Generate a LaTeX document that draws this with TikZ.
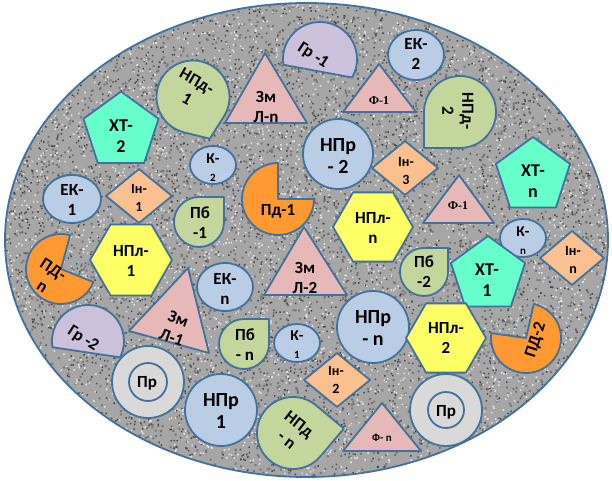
\documentclass[tikz,border=0pt]{standalone}
\usepackage{fontspec}
\setmainfont{Carlito}
\newfontfamily\serifF{Liberation Serif}
\definecolor{outl}{HTML}{41719C}
\definecolor{cblue}{HTML}{B9CDE5}
\definecolor{cgreen}{HTML}{C3D69B}
\definecolor{clav}{HTML}{CCC1DA}
\definecolor{cpink}{HTML}{E6B9B8}
\definecolor{cdiam}{HTML}{FAC090}
\definecolor{cpie}{HTML}{FF9A33}
\definecolor{chex}{HTML}{FFFF66}
\definecolor{cpent}{HTML}{66FFCC}
\definecolor{cring}{HTML}{D9D9D9}
\definecolor{gbase}{HTML}{A6A6A6}
\definecolor{gdark}{HTML}{454545}
\definecolor{gmid}{HTML}{767676}
\definecolor{glight}{HTML}{E2E2E2}
\newcommand\lfA{\bfseries\fontsize{20}{22}\selectfont}
\newcommand\lfX{\bfseries\fontsize{18}{21}\selectfont}
\newcommand\lfB{\bfseries\fontsize{17}{20}\selectfont}
\newcommand\lfC{\bfseries\fontsize{14}{18}\selectfont}
\newcommand\lfK{\bfseries\fontsize{15}{18}\selectfont}
\newcommand\lfF{\serifF\bfseries\fontsize{12}{14}\selectfont}
\newcommand\lfS{\bfseries\fontsize{11}{13}\selectfont}
% shapes
\newcommand\mytear[6]{% x,y,r,phi,dist,color
 \pgfmathsetmacro\tA{acos(#3/#5)}%
 \draw[sh,fill=#6,shift={(#1,#2)}] (#4:#5) -- ({#4+\tA}:#3) arc[start angle={#4+\tA}, end angle={#4+360-\tA}, radius=#3] -- cycle;}
\newcommand\mypie[6]{% x,y,r,a1,a2,color
 \draw[sh,fill=#6,shift={(#1,#2)}] (0,0) -- (#4:#3) arc[start angle=#4,end angle=#5,radius=#3] -- cycle;}
\newcommand\mychord[6]{%
 \draw[sh,fill=#6,shift={(#1,#2)}] (#4:#3) arc[start angle=#4,end angle=#5,radius=#3] -- cycle;}
\newcommand\mypent[4]{%
 \draw[sh,fill=#4,shift={(#1,#2)}] (-90:#3) -- (-18:#3) -- (54:#3) -- (126:#3) -- (198:#3) -- cycle;}
\newcommand\myhex[4]{%
 \draw[sh,fill=#4,shift={(#1,#2)}] (0:#3) -- (60:#3) -- (120:#3) -- (180:#3) -- (240:#3) -- (300:#3) -- cycle;}
\newcommand\mydiam[5]{%
 \draw[sh,fill=#5] (#1-#3,#2) -- (#1,#2-#4) -- (#1+#3,#2) -- (#1,#2+#4) -- cycle;}
\newcommand\myring[4]{%
 \draw[sh,fill=cring] (#1,#2) circle[radius=#3];
 \draw[sh] (#1,#2) circle[radius=#4];}
\begin{document}
\begin{tikzpicture}[x=1pt,y=-1pt,
 sh/.style={draw=outl,line width=1.8pt,line join=round},
 lbl/.style={align=center,inner sep=0pt,text=black}]
\useasboundingbox (0,0) rectangle (612,481);
% granite ellipse
\begin{scope}
\clip (306.5,240) ellipse[x radius=301.5,y radius=237];
\fill[gbase] (0,0) rectangle (612,481);
\pgfmathsetseed{5}
\foreach \j in {1,...,9}{\fill[gmid] \foreach \i in {1,...,500}{({306+302*rand},{240+238*rand}) rectangle ++(2,2)};}
\foreach \j in {1,...,8}{\fill[gdark] \foreach \i in {1,...,500}{({306+302*rand},{240+238*rand}) rectangle ++(1.5,1.5)};}
\foreach \j in {1,...,9}{\fill[glight] \foreach \i in {1,...,500}{({306+302*rand},{240+238*rand}) rectangle ++(1.6,1.6)};}
\end{scope}
\draw[outl,line width=1.8pt] (306.5,240) ellipse[x radius=301.5,y radius=237];

% chords (Гр)
\mychord{320}{59}{37}{171}{390}{clav}
\mychord{88}{341}{36}{170}{387}{clav}
% triangles
\draw[sh,fill=cpink] (265,53) -- (225,123) -- (307,123) -- cycle;
\draw[sh,fill=cpink] (379,64) -- (343,112) -- (416,112) -- cycle;
\draw[sh,fill=cpink] (459,175) -- (423,223) -- (494,223) -- cycle;
\draw[sh,fill=cpink] (304,227) -- (264,295) -- (347,295) -- cycle;
\draw[sh,fill=cpink] (129,331) -- (188,268) -- (209,353) -- cycle;
\draw[sh,fill=cpink] (382,403) -- (343,451) -- (421,451) -- cycle;
% ellipses / circles
\draw[sh,fill=cblue] (416,55) ellipse[x radius=28,y radius=25];
\draw[sh,fill=cblue] (72,199) ellipse[x radius=29,y radius=24];
\draw[sh,fill=cblue] (225,287) ellipse[x radius=28,y radius=24];
\draw[sh,fill=cblue] (213,165) ellipse[x radius=23,y radius=19];
\draw[sh,fill=cblue] (523,238) ellipse[x radius=23,y radius=19];
\draw[sh,fill=cblue] (297,343) ellipse[x radius=23,y radius=19];
\draw[sh,fill=cblue] (338,154) circle[radius=35];
\draw[sh,fill=cblue] (373,327) circle[radius=36];
\draw[sh,fill=cblue] (221,410) circle[radius=36];
% teardrops
\mytear{193}{97}{36.5}{68}{45}{cgreen}
\mytear{460}{112}{36}{135}{50.9}{cgreen}
\mytear{424}{272}{24}{-45}{33.9}{cgreen}
\mytear{199}{222}{25}{-45}{35.4}{cgreen}
\mytear{244}{344}{25}{-45}{35.4}{cgreen}
\mytear{293}{433}{36}{-5}{51}{cgreen}
% pies
\mypie{278}{199}{36}{0}{270}{cpie}
\mypie{526}{338}{35}{283}{548}{cpie}
\mypie{61}{269}{35}{22}{285}{cpie}
% pentagons
\mypent{533}{176}{39}{cpent}
\mypent{121}{131}{39.5}{cpent}
\mypent{488}{275}{39}{cpent}
% hexagons
\myhex{373}{227}{40}{chex}
\myhex{446}{338}{40}{chex}
\myhex{131}{260}{41}{chex}
% diamonds
\mydiam{405}{168}{33}{27}{cdiam}
\mydiam{572}{258}{32}{27}{cdiam}
\mydiam{139}{196}{33}{27}{cdiam}
\mydiam{337}{380}{33}{27}{cdiam}
% rings
\myring{148}{382}{36}{19}
\myring{446}{410}{36}{18}

% labels
\node[lbl,font=\lfB] (ek2) at (416,54) {ЕК-\\2};
\node[lbl,font=\lfF] (f1a) at (379,101) {Ф-1};
\node[lbl,font=\lfB,rotate=-90] (npd2) at (458,111) {НПд-\\2};
\node[lbl,font=\lfB] (zmn) at (266,107) {Зм\\Л-n};
\node[lbl,font=\lfB,rotate=-33] (gr1) at (313,56) {Гр -1};
\node[lbl,font=\lfB,rotate=-30] (npd1) at (192,90) {НПд-\\1};
\node[lbl,font=\lfX] (xt2) at (121,136) {ХТ-\\2};
\node[lbl,font=\lfA] (npr2) at (338,156) {НПр\\- 2};
\node[lbl,font=\lfC] (in3) at (406,171) {Ін-\\3};
\node[lbl,font=\lfX] (xtn) at (533,181) {ХТ-\\n};
\node[lbl,font=\lfK] (k2) at (213,168) {К-\\{\lfS 2}};
\node[lbl,font=\lfB] (ek1) at (72,200) {ЕК-\\1};
\node[lbl,font=\lfC] (in1) at (139,198) {Ін-\\1};
\node[lbl,font=\lfB] (pd1) at (278,211) {Пд-1};
\node[lbl,font=\lfB] (pb1) at (200,223) {Пб\\-1};
\node[lbl,font=\lfB] (npln) at (373,228) {НПл-\\n};
\node[lbl,font=\lfF] (f1b) at (458,206) {Ф-1};
\node[lbl,font=\lfK] (kn) at (523,241) {К-\\{\lfS n}};
\node[lbl,font=\lfC] (inn) at (573,260) {Ін-\\n};
\node[lbl,font=\lfB,rotate=-33] (pdn) at (48,278) {ПД-\\n};
\node[lbl,font=\lfB] (npl1) at (131,261) {НПл-\\1};
\node[lbl,font=\lfB] (zm2) at (305,278) {Зм\\Л-2};
\node[lbl,font=\lfB] (pb2) at (424,272) {Пб\\-2};
\node[lbl,font=\lfX] (xt1) at (487,280) {ХТ-\\1};
\node[lbl,font=\lfB] (ekn) at (225,289) {ЕК-\\n};
\node[lbl,font=\lfB,rotate=-20] (zm1) at (175,328) {Зм\\Л-1};
\node[lbl,font=\lfB,rotate=-33] (gr2) at (83,339) {Гр -2};
\node[lbl,font=\lfB] (pbn) at (245,345) {Пб\\- n};
\node[lbl,font=\lfK] (k1) at (297,345) {К-\\{\lfS 1}};
\node[lbl,font=\lfA] (nprn) at (373,328) {НПр\\- n};
\node[lbl,font=\lfB] (npl2) at (446,338) {НПл-\\2};
\node[lbl,font=\lfB,rotate=72] (pd2) at (536,340) {ПД-2};
\node[lbl,font=\lfB] (pr1) at (147,383) {Пр};
\node[lbl,font=\lfA] (npr1) at (221,411) {НПр\\1};
\node[lbl,font=\lfC] (in2) at (336,380) {Ін-\\2};
\node[lbl,font=\lfB,rotate=-38] (npdn) at (293,432) {НПд\\- n};
\node[lbl,font=\lfS] (fn) at (382,438) {Ф- n};
\node[lbl,font=\lfB] (pr2) at (446,412) {Пр};
\end{tikzpicture}
\end{document}
